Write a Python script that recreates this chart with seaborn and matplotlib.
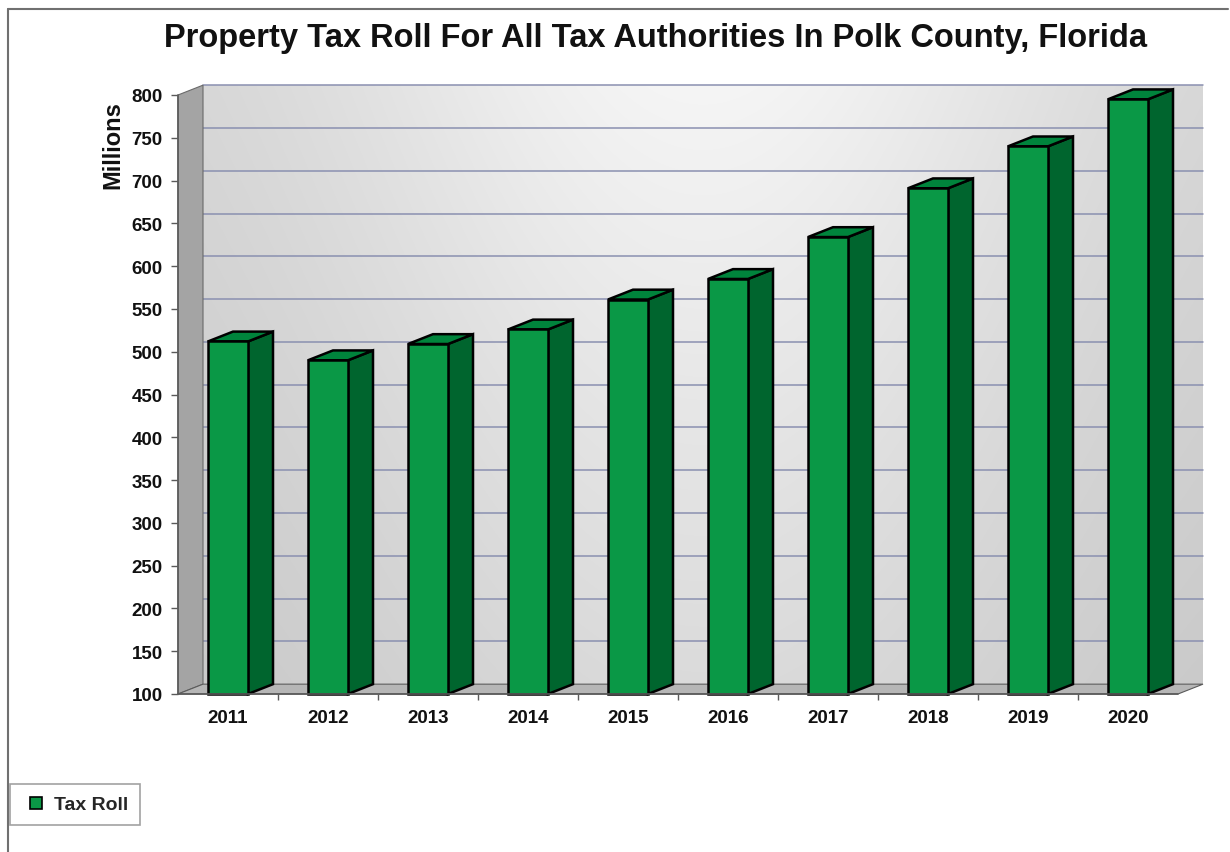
import numpy as np
import pandas as pd
import matplotlib
matplotlib.use("Agg")
import matplotlib.pyplot as plt
from matplotlib.patches import Polygon, Rectangle
from matplotlib.lines import Line2D
import seaborn as sns

# ---- data ----
years = ["2011", "2012", "2013", "2014", "2015", "2016", "2017", "2018", "2019", "2020"]
tax_roll = [512, 490, 509, 526, 561, 585, 634, 691, 740, 795]
y_ticks = [100, 150, 200, 250, 300, 350, 400, 450, 500, 550, 600, 650, 700, 750, 800]
title = "Property Tax Roll For All Tax Authorities In Polk County, Florida"
y_label = "Millions"
legend_label = "Tax Roll"

sns.set_theme(style="white")
plt.rcParams['font.family'] = ['Liberation Sans', 'DejaVu Sans']

FRONT = "#0a9846"
SIDE = "#00652e"
TOP = "#00843c"

fig = plt.figure(figsize=(12.3, 8.53), dpi=100)
ax = fig.add_axes([178/1230, 1-695/853, 1000/1230, 599/853])

df = pd.DataFrame({"year": years, "value": tax_roll})
sns.barplot(data=df, x="year", y="value", color=FRONT, saturation=1, width=0.4,
            edgecolor="black", linewidth=1.8, ax=ax, zorder=5)

ymin, ymax = y_ticks[0], y_ticks[-1]
xmin, xmax = -0.5, len(years) - 0.5
ax.set_xlim(xmin, xmax)
ax.set_ylim(ymin, ymax)
DX = 0.25          # depth offset in category units
DY = 11.5          # depth offset in value units

# back wall with gradient
nx, ny = 300, 200
gx = np.linspace(0, 1, nx)
gy = np.linspace(0, 1, ny)[:, None]  # 0 top, 1 bottom
horiz = np.exp(-((gx - 0.5) / 0.38) ** 2)
val = 0.82 + 0.14 * horiz[None, :] * (1 - 0.45 * gy) - 0.04 * gy
img = np.dstack([val, val, val])
ax.imshow(img, extent=(xmin + DX, xmax + DX, ymin + DY, ymax + DY), aspect="auto",
          zorder=0, clip_on=False, interpolation="bilinear")

# gridlines on back wall
for t in y_ticks[1:]:
    ax.plot([xmin + DX, xmax + DX], [t + DY, t + DY], color="#8a90b0", lw=1.1,
            zorder=1, clip_on=False)

# left wall
left_wall = Polygon([(xmin, ymin), (xmin + DX, ymin + DY), (xmin + DX, ymax + DY), (xmin, ymax)],
                    closed=True, facecolor="#a4a4a4", edgecolor="#6a6a6a", lw=0.8,
                    zorder=2, clip_on=False)
ax.add_patch(left_wall)
# floor
floor = Polygon([(xmin, ymin), (xmin + DX, ymin + DY), (xmax + DX, ymin + DY), (xmax, ymin)],
                closed=True, facecolor="#b6b6b6", edgecolor="#5a5a5a", lw=0.8,
                zorder=2, clip_on=False)
ax.add_patch(floor)

# 3D bar faces derived from the seaborn bars
for p in list(ax.patches):
    if not isinstance(p, Rectangle) or p.get_zorder() != 5:
        continue
    x0 = p.get_x()
    x1 = x0 + p.get_width()
    h = p.get_y() + p.get_height()
    side = Polygon([(x1, ymin), (x1 + DX, ymin + DY), (x1 + DX, h + DY), (x1, h)], closed=True,
                   facecolor=SIDE, edgecolor="black", lw=1.8, zorder=4, clip_on=False)
    top = Polygon([(x0, h), (x0 + DX, h + DY), (x1 + DX, h + DY), (x1, h)], closed=True,
                  facecolor=TOP, edgecolor="black", lw=1.8, zorder=4, clip_on=False)
    ax.add_patch(side)
    ax.add_patch(top)
    p.set_clip_on(False)
    p.set_y(ymin)
    p.set_height(h - ymin)

for s in ax.spines.values():
    s.set_visible(False)
ax.plot([xmin, xmin], [ymin, ymax], color="#5a5a5a", lw=1.2, zorder=6, clip_on=False)
ax.plot([xmin, xmax], [ymin, ymin], color="#5a5a5a", lw=1.2, zorder=6, clip_on=False)

ax.set_yticks(y_ticks)
ax.set_yticklabels([str(t) for t in y_ticks], fontsize=13.5, fontweight="bold", color="#111111")
ax.tick_params(axis="y", left=True, length=5, width=1, color="#5a5a5a", pad=6)
ax.set_xticks(range(len(years)))
ax.set_xticklabels(years, fontsize=13.5, fontweight="bold", color="#111111")
ax.set_xticks(np.arange(0.5, len(years) - 0.5, 1), minor=True)
ax.tick_params(axis="x", which="major", bottom=False, length=0, pad=11)
ax.tick_params(axis="x", which="minor", bottom=True, length=4, width=1, color="#5a5a5a")
ax.set_xlabel("")
ax.set_ylabel("")
ax.grid(False)

fig.text(113/1230, 1 - 145/853, y_label, rotation=90, ha="center", va="center",
         fontsize=17, fontweight="bold", color="#111111")
fig.text(655/1230, 1 - 38/853, title, ha="center", va="center",
         fontsize=23.5, fontweight="bold", color="#111111")

# outer frame (top and left)
fig.add_artist(Line2D([8/1230, 8/1230], [0, 1 - 10/853], transform=fig.transFigure,
                      color="#707070", lw=1.5))
fig.add_artist(Line2D([8/1230, 1228/1230], [1 - 10/853, 1 - 10/853], transform=fig.transFigure,
                      color="#707070", lw=1.5))

handle = Line2D([], [], marker="s", linestyle="none", markersize=8,
                markerfacecolor=FRONT, markeredgecolor="black", markeredgewidth=1.2)
leg = fig.legend([handle], [legend_label], loc="lower left",
                 bbox_to_anchor=(10/1230, 1 - 826/853), frameon=True, fancybox=False,
                 prop={"weight": "bold", "size": 14}, handlelength=1.5, handletextpad=0.15,
                 borderpad=0.6, borderaxespad=0, edgecolor="#8a8a8a")
leg.get_frame().set_linewidth(1.2)

fig.savefig("out.png", dpi=100)
